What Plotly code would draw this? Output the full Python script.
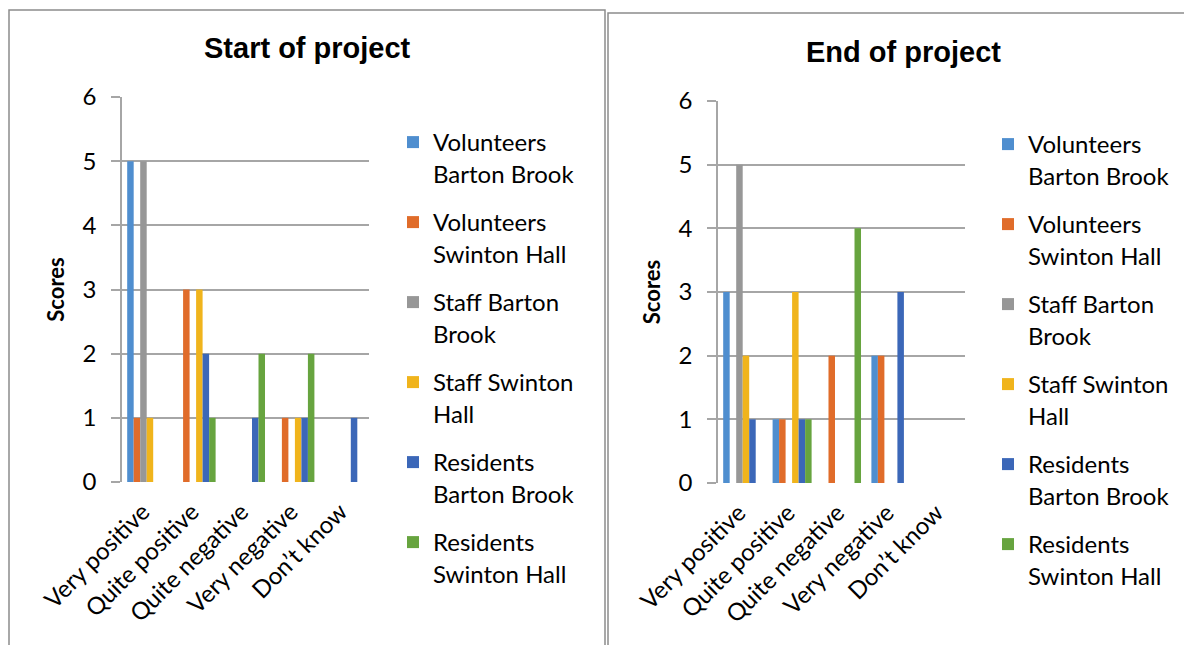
import plotly.graph_objects as go

# categories (x axis)
categories = ["Very positive", "Quite positive", "Quite negative", "Very negative", "Don\u2019t know"]

# series names (legend shows them on two lines)
series_names = [
    "Volunteers<br>Barton Brook",
    "Volunteers<br>Swinton Hall",
    "Staff Barton<br>Brook",
    "Staff Swinton<br>Hall",
    "Residents<br>Barton Brook",
    "Residents<br>Swinton Hall",
]

# scores at start of project, one list per series
start_vol_barton = [5, 0, 0, 0, 0]
start_vol_swinton = [1, 3, 0, 1, 0]
start_staff_barton = [5, 0, 0, 0, 0]
start_staff_swinton = [1, 3, 0, 1, 0]
start_res_barton = [0, 2, 1, 1, 1]
start_res_swinton = [0, 1, 2, 2, 0]

# scores at end of project
end_vol_barton = [3, 1, 0, 2, 0]
end_vol_swinton = [0, 1, 2, 2, 0]
end_staff_barton = [5, 0, 0, 0, 0]
end_staff_swinton = [2, 3, 0, 0, 0]
end_res_barton = [1, 1, 0, 3, 0]
end_res_swinton = [0, 1, 4, 0, 0]

y_ticks = [0, 1, 2, 3, 4, 5, 6]

# office-style palette
COLORS = ["#4F8ECF", "#E06C2A", "#979797", "#F0B41C", "#3B67B8", "#67A43F"]
GRID = "#A6A6A6"
FONT = "Lato"

start_data = [start_vol_barton, start_vol_swinton, start_staff_barton,
              start_staff_swinton, start_res_barton, start_res_swinton]
end_data = [end_vol_barton, end_vol_swinton, end_staff_barton,
            end_staff_swinton, end_res_barton, end_res_swinton]

fig = go.Figure()
for i, name in enumerate(series_names):
    fig.add_trace(go.Bar(x=categories, y=start_data[i], name=name,
                         marker=dict(color=COLORS[i], line=dict(width=0)),
                         xaxis="x", yaxis="y", legend="legend",
                         legendgroup=f"g{i}"))
for i, name in enumerate(series_names):
    fig.add_trace(go.Bar(x=categories, y=end_data[i], name=name,
                         marker=dict(color=COLORS[i], line=dict(width=0)),
                         xaxis="x2", yaxis="y2", legend="legend2",
                         legendgroup=f"g{i}"))

W, H = 1192, 645
PAGE_MARGIN = 8  # default body margin of the html page


def px_x(v):
    # screen pixel from left -> paper fraction
    return (v - PAGE_MARGIN) / W


def px_y(v):
    # screen pixel from top -> paper fraction
    return 1 - (v - PAGE_MARGIN) / H


xaxis_common = dict(
    type="category", showline=False, showgrid=False, ticks="",
    tickangle=-45, tickfont=dict(family=FONT, size=24, color="#000"),
    ticklabelstandoff=10, ticklabelshift=-4,
    automargin=False, fixedrange=True,
)
yaxis_common = dict(
    range=[0, 6], tickvals=y_ticks, showgrid=True, gridcolor=GRID, gridwidth=1.5,
    showline=True, linecolor=GRID, linewidth=1.5,
    ticks="outside", ticklen=9, tickcolor=GRID, tickwidth=1.5,
    ticklabelstandoff=10,
    tickfont=dict(family=FONT, size=24, color="#000"),
    title=dict(text="<b>Scores</b>", font=dict(family=FONT, size=22, color="#000"),
               standoff=12),
    zeroline=False, automargin=False, fixedrange=True,
)

legend_common = dict(
    font=dict(family=FONT, size=24, color="#000"),
    traceorder="grouped", tracegroupgap=14.6, valign="top",
    bgcolor="rgba(0,0,0,0)", itemclick=False, itemdoubleclick=False,
    xanchor="left", yanchor="top",
)

fig.update_layout(
    width=W, height=H,
    margin=dict(l=0, r=0, t=0, b=0, autoexpand=False),
    paper_bgcolor="white", plot_bgcolor="white",
    barmode="group", bargap=0.21, bargroupgap=0,
    xaxis=dict(**xaxis_common, domain=[px_x(122), px_x(369)], anchor="y"),
    yaxis=dict(**yaxis_common, domain=[px_y(482), px_y(97)], anchor="x"),
    xaxis2=dict(**xaxis_common, domain=[px_x(718), px_x(965)], anchor="y2"),
    yaxis2=dict(**yaxis_common, domain=[px_y(483), px_y(101)], anchor="x2"),
    legend=dict(**legend_common, x=px_x(393), y=px_y(120)),
    legend2=dict(**legend_common, x=px_x(988), y=px_y(122)),
    annotations=[
        dict(text="<b>Start of project</b>", x=px_x(307), y=px_y(48),
             xref="paper", yref="paper", showarrow=False,
             xanchor="center", yanchor="middle",
             font=dict(family="Liberation Sans", size=29, color="#000")),
        dict(text="<b>End of project</b>", x=px_x(903), y=px_y(52),
             xref="paper", yref="paper", showarrow=False,
             xanchor="center", yanchor="middle",
             font=dict(family="Liberation Sans", size=29, color="#000")),
    ],
    shapes=[
        dict(type="rect", xref="paper", yref="paper",
             x0=px_x(9), x1=px_x(605), y0=-0.05, y1=px_y(10),
             line=dict(color="#8C8C8C", width=1.5), fillcolor="rgba(0,0,0,0)"),
        dict(type="rect", xref="paper", yref="paper",
             x0=px_x(608), x1=1.05, y0=-0.05, y1=px_y(13),
             line=dict(color="#8C8C8C", width=1.5), fillcolor="rgba(0,0,0,0)"),
    ],
)

fig.write_html("out.html")
